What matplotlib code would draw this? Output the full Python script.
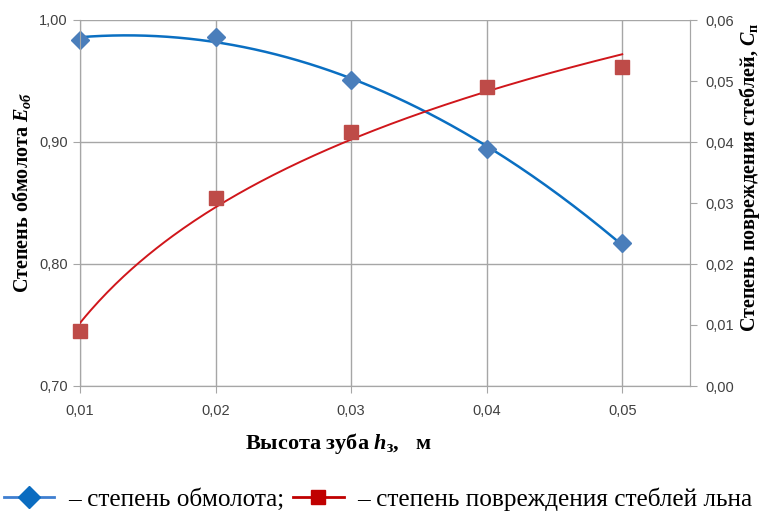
import numpy as np
import matplotlib
matplotlib.use("Agg")
import matplotlib.pyplot as plt
from matplotlib.lines import Line2D
from matplotlib.ticker import FuncFormatter

plt.rcParams['mathtext.fontset'] = 'custom'
plt.rcParams['mathtext.rm'] = 'Liberation Serif:bold'
plt.rcParams['mathtext.it'] = 'Liberation Serif:italic:bold'
plt.rcParams['mathtext.bf'] = 'Liberation Serif:bold'

# Data
h = [0.01, 0.02, 0.03, 0.04, 0.05]
threshing = [0.984, 0.986, 0.951, 0.894, 0.817]
damage = [0.0090, 0.0308, 0.0416, 0.0490, 0.0523]
x_ticks = [0.01, 0.02, 0.03, 0.04, 0.05]
y_ticks_left = [0.70, 0.80, 0.90, 1.00]
y_ticks_right = [0.00, 0.01, 0.02, 0.03, 0.04, 0.05, 0.06]

blue_line = '#0A6FC2'
blue_mark = '#4A7EBB'
red_line = '#D0161B'
red_mark = '#BE4B48'
grid_c = '#A6A6A6'

W, H = 761, 511
fig = plt.figure(figsize=(W/100, H/100), dpi=100)
ax = fig.add_axes([80/W, 1-386/H, 610/W, 366/H])
ax2 = ax.twinx()

# trend lines (fitted): polynomial (2nd order) and logarithmic
xs = np.linspace(0.01, 0.05, 200)
pb = np.polyfit(h, threshing, 2)
ax.plot(xs, np.polyval(pb, xs), color=blue_line, lw=1.8, zorder=3)
ax.plot(h, threshing, linestyle='none', marker='D', ms=9, color=blue_mark, zorder=4, clip_on=False)

pr = np.polyfit(np.log(h), damage, 1)
ax2.plot(xs, np.polyval(pr, np.log(xs)), color=red_line, lw=1.4, zorder=3)
ax2.plot(h, damage, linestyle='none', marker='s', ms=10, color=red_mark, zorder=4, clip_on=False)

ax.set_xlim(0.01, 0.055)
ax.set_ylim(0.70, 1.00)
ax2.set_ylim(0.0, 0.06)
ax.set_xticks(x_ticks)
ax.set_yticks(y_ticks_left)
ax2.set_yticks(y_ticks_right)

fmt2 = FuncFormatter(lambda v, p: f"{v:.2f}".replace('.', ','))
ax.xaxis.set_major_formatter(fmt2)
ax.yaxis.set_major_formatter(fmt2)
ax2.yaxis.set_major_formatter(fmt2)

ax.grid(True, color=grid_c, lw=1)
ax.set_axisbelow(True)
for a in (ax, ax2):
    a.spines['top'].set_visible(False)
    for s in ['left', 'right', 'bottom']:
        a.spines[s].set_color(grid_c)
    a.tick_params(colors='#404040', labelsize=10.5, length=5, color=grid_c)
    for lbl in a.get_xticklabels() + a.get_yticklabels():
        lbl.set_fontfamily('Liberation Sans')
ax.tick_params(axis='x', pad=8)
ax.tick_params(axis='y', pad=4)
ax2.tick_params(axis='y', pad=6)

lab = dict(fontfamily='Liberation Serif', fontweight='bold', fontsize=14.5)
fig.text(22/W, 1-192/H, r'Степень обмолота $\mathit{E}_{\mathit{об}}$',
         rotation=90, ha='center', va='center', **lab)
fig.text(749/W, 1-177/H, r'Степень повреждения стеблей, $\mathit{C}_{\mathrm{п}}$',
         rotation=90, ha='center', va='center', **lab)
fig.text(338/W, 1-443/H, r'Высота зуба $\mathit{h}_{\mathrm{з}}$,   м',
         ha='center', va='center', fontfamily='Liberation Serif', fontweight='bold', fontsize=16)

handles = [Line2D([], [], color='#3F7FD0', lw=2, marker='D', ms=11, mfc='#0B6CC0', mec='#0B6CC0'),
           Line2D([], [], color='#C00000', lw=2, marker='s', ms=10, mfc='#C00000', mec='#C00000')]
fig.legend(handles, ['– степень обмолота;', '– степень повреждения стеблей льна'],
           loc='center', bbox_to_anchor=(0.497, 1-499/H), ncol=2, frameon=False,
           handlelength=2.0, handletextpad=0.55, columnspacing=0.35,
           prop={'family': 'Liberation Serif', 'size': 18.2})

fig.savefig('out.png', dpi=100)
